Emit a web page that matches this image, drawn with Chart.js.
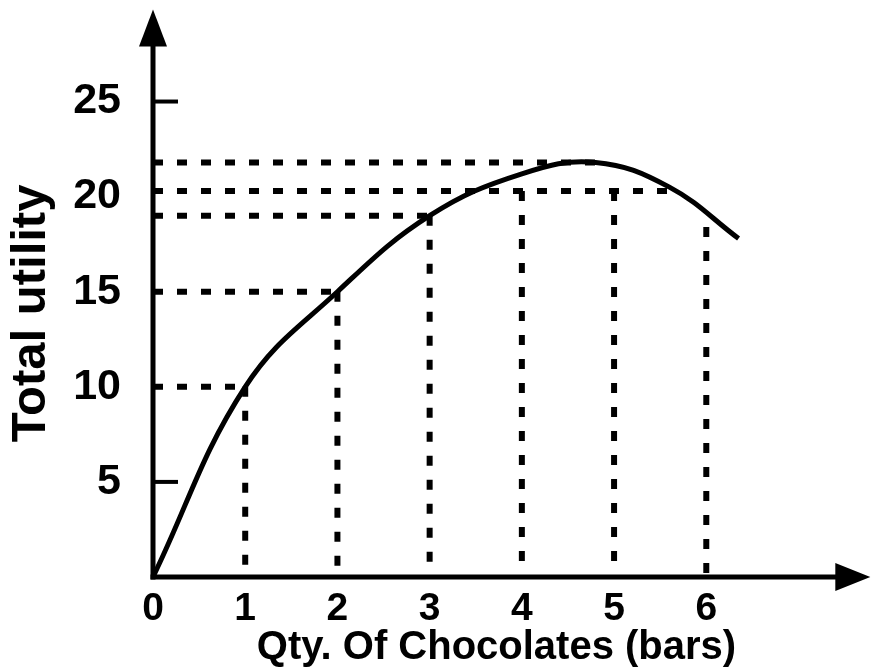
<!DOCTYPE html>
<html><head><meta charset="utf-8">
<script src="https://cdn.jsdelivr.net/npm/chart.js@4"></script>
<style>html,body{margin:0;padding:0;background:#fff}</style>
</head><body>
<canvas id="c" width="873" height="672"></canvas>
<script>
// ---- data ----
const qty = [0, 1, 2, 3, 4, 4.8, 5.6, 6.35];
const totalUtility = [0, 10, 15, 19, 21.2, 21.8, 20.5, 17.8];
const xTickLabels = ['0', '1', '2', '3', '4', '5', '6'];
const yTickLabels = ['5', '10', '15', '20', '25'];
const guideLevels = [10, 15, 19, 20.3, 21.8];      // horizontal dashed lines (utility)
const guideLevelEnds = [1, 2, 3, 5.65, 4.8];        // where each reaches the curve (qty)
const guideQty = [1, 2, 3, 4, 5, 6];                // vertical dashed lines (qty)
const guideQtyTops = [10, 15, 19, 20.3, 20.3, 18.4];
const yMarkedTicks = [5, 25];
const xTitle = 'Qty. Of Chocolates (bars)';
const yTitle = 'Total utility';

const FONT = "'Liberation Sans', Arial, Helvetica, sans-serif";
const dash = [10, 14];

const datasets = [{
  data: qty.map((q, i) => ({x: q, y: totalUtility[i]})),
  borderColor: '#000', borderWidth: 5, pointRadius: 0,
  tension: 0.4, fill: false
}];
guideLevels.forEach((lvl, i) => datasets.push({
  data: [{x: 0, y: lvl}, {x: guideLevelEnds[i], y: lvl}],
  borderColor: '#000', borderWidth: 6, borderDash: dash, pointRadius: 0, fill: false
}));
guideQty.forEach((q, i) => datasets.push({
  data: [{x: q, y: guideQtyTops[i]}, {x: q, y: 0}],
  borderColor: '#000', borderWidth: 6, borderDash: dash, pointRadius: 0, fill: false
}));

const axesPlugin = {
  id: 'axesArrows',
  afterDatasetsDraw(chart) {
    const {ctx, chartArea: {left, bottom}, scales: {x, y}} = chart;
    ctx.save();
    ctx.strokeStyle = '#000'; ctx.fillStyle = '#000'; ctx.lineWidth = 5; ctx.lineCap = 'butt';
    const yTip = y.getPixelForValue(25) - 92;
    const xTip = x.getPixelForValue(6) + 164;
    ctx.beginPath(); ctx.moveTo(left, bottom + 2.5); ctx.lineTo(left, yTip + 20); ctx.stroke();
    ctx.beginPath(); ctx.moveTo(left - 2.5, bottom); ctx.lineTo(xTip - 20, bottom); ctx.stroke();
    ctx.beginPath(); ctx.moveTo(left, yTip); ctx.lineTo(left - 14, yTip + 37); ctx.lineTo(left + 14, yTip + 37); ctx.closePath(); ctx.fill();
    ctx.beginPath(); ctx.moveTo(xTip, bottom); ctx.lineTo(xTip - 35, bottom - 14); ctx.lineTo(xTip - 35, bottom + 14); ctx.closePath(); ctx.fill();
    ctx.lineWidth = 4;
    yMarkedTicks.forEach(v => {
      const py = y.getPixelForValue(v);
      ctx.beginPath(); ctx.moveTo(left, py); ctx.lineTo(left + 25, py); ctx.stroke();
    });
    ctx.restore();
  }
};

new Chart(document.getElementById('c'), {
  type: 'line',
  data: {datasets},
  plugins: [axesPlugin],
  options: {
    responsive: false, animation: false, devicePixelRatio: 1,
    layout: {padding: {top: 24, right: 33, left: 0, bottom: 0}},
    plugins: {legend: {display: false}, tooltip: {enabled: false}},
    scales: {
      x: {
        type: 'linear', min: 0, max: 7.45,
        grid: {display: false}, border: {display: false},
        ticks: {
          stepSize: 1, autoSkip: false, maxRotation: 0, padding: 1, color: '#000',
          font: {family: FONT, size: 39, weight: 'bold'},
          callback: v => (Number.isInteger(v) && xTickLabels[v] !== undefined) ? xTickLabels[v] : null
        },
        title: {display: true, text: xTitle, color: '#000', font: {family: FONT, size: 40, weight: 'bold'}, padding: {top: 0, bottom: 0}},
        afterFit: s => { s.height = 95; }
      },
      y: {
        type: 'linear', min: 0, max: 27.72,
        grid: {display: false}, border: {display: false},
        ticks: {
          stepSize: 5, autoSkip: false, padding: 24, color: '#000',
          font: {family: FONT, size: 43, weight: 'bold'},
          callback: v => yTickLabels.includes(String(v)) ? String(v) : null
        },
        title: {display: true, text: yTitle, color: '#000', font: {family: FONT, size: 49, weight: 'bold'}, padding: {top: 2, bottom: 0}},
        afterFit: s => { s.width = 153; }
      }
    }
  }
});
</script>
</body></html>
